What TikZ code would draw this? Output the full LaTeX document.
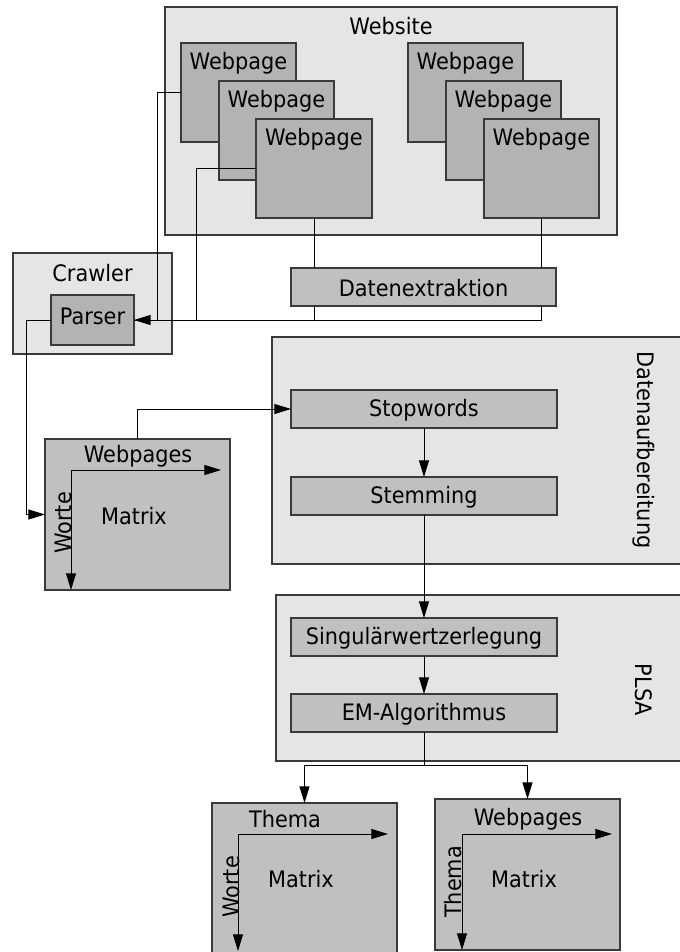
\documentclass[tikz,border=0pt]{standalone}
\usepackage{fontspec}
\setmainfont{DejaVu Sans}[FakeStretch=0.92]
\usetikzlibrary{arrows.meta,fit}

\definecolor{groupfill}{HTML}{E5E5E5}
\definecolor{pagefill}{HTML}{B3B3B3}
\definecolor{stepfill}{HTML}{C0C0C0}
\definecolor{edgegray}{HTML}{3A3A3A}

\begin{document}
\begin{tikzpicture}[
  x=0.75pt, y=-0.75pt,
  font=\fontsize{17}{20}\selectfont,
  frame/.style={draw=edgegray, line width=0.8pt, inner sep=0pt, outer sep=0pt},
  group/.style={frame, fill=groupfill},
  page/.style={frame, fill=pagefill},
  stepbox/.style={frame, fill=stepfill},
  matbox/.style={frame, fill=stepfill},
  txt/.style={inner sep=0pt, anchor=center},
  conn/.style={line width=0.75pt, black},
  arr/.style={conn, -{Triangle[length=12.5pt, width=7.5pt]}},
]
\useasboundingbox (0,0) rectangle (680,952);

% ---- website with its pages ----
\node[group, fit={(165,7) (617,235)}] (site) {};
\node[txt] (siteT) at (391,26) {Website};

\node[page, fit={(181,43) (296,142)}] (wp1) {};
\node[txt] at (238.5,63) {Webpage};
\node[page, fit={(219,81) (334,180)}] (wp2) {};
\node[txt] at (276.5,101) {Webpage};
\node[page, fit={(256,119) (372,218)}] (wp3) {};
\node[txt] at (314,139) {Webpage};

\node[page, fit={(408,43) (523,142)}] (wp4) {};
\node[txt] at (465.5,63) {Webpage};
\node[page, fit={(446,81) (561,180)}] (wp5) {};
\node[txt] at (503.5,101) {Webpage};
\node[page, fit={(484,119) (599,218)}] (wp6) {};
\node[txt] at (541.5,139) {Webpage};

% ---- crawler ----
\node[group, fit={(13,253) (172,354)}] (crawler) {};
\node[txt] at (92.5,273) {Crawler};
\node[page, fit={(51,295) (134,345)}] (parser) {};
\node[txt] at (92.5,316) {Parser};

% ---- extraction ----
\node[stepbox, fit={(291,268) (556,306)}] (dex) {};
\node[txt] at (423.5,288) {Datenextraktion};

% ---- preprocessing ----
\node[group, fit={(272,337) (690,564)}] (prep) {};
\node[txt, rotate=-90] at (644,450) {Datenaufbereitung};
\node[stepbox, fit={(291,390) (557,428)}] (stop) {};
\node[txt] at (424,410) {Stopwords};
\node[stepbox, fit={(291,477) (557,515)}] (stem) {};
\node[txt] at (424,497) {Stemming};

% ---- PLSA ----
\node[group, fit={(276,595) (690,761)}] (plsa) {};
\node[txt, rotate=-90] at (644,690) {PLSA};
\node[stepbox, fit={(291,618) (557,656)}] (svd) {};
\node[txt] at (424,638) {Singulärwertzerlegung};
\node[stepbox, fit={(291,694) (557,732)}] (em) {};
\node[txt] at (424,714) {EM-Algorithmus};

% ---- word/page matrix ----
\node[matbox, fit={(45,439) (230,590)}] (m1) {};
\coordinate (o1) at (71,470);
\draw[arr] (o1) -- (221,470);
\draw[arr] (o1) -- (71,590);
\node[txt] at (138,456) {Webpages};
\node[txt, rotate=90] at (63,523) {Worte};
\node[txt] at (134,516) {Matrix};

% ---- word/topic matrix ----
\node[matbox, fit={(212,803) (397,970)}] (m2) {};
\coordinate (o2) at (238,834);
\draw[arr] (o2) -- (388,834);
\draw[arr] (o2) -- (238,951);
\node[txt] at (285,819) {Thema};
\node[txt, rotate=90] at (231,887) {Worte};
\node[txt] at (301,879) {Matrix};

% ---- topic/page matrix ----
\node[matbox, fit={(435,799) (620,950)}] (m3) {};
\coordinate (o3) at (462,834);
\draw[arr] (o3) -- (612,834);
\draw[arr] (o3) -- (462,950);
\node[txt] at (528,819) {Webpages};
\node[txt, rotate=90] at (453,882) {Thema};
\node[txt] at (524,879) {Matrix};

% ---- connectors ----
\draw[conn] (wp1.west) -- ++(-24,0) |- (parser.east);
\draw[conn] (wp3.west) -- ++(-60,0) |- (parser.east);
\draw[conn] (wp3.south) -- (wp3.south |- dex.north);
\draw[conn] (wp6.south) -- (wp6.south |- dex.north);
\draw[conn] (wp6.south |- dex.south) |- (parser.east);
\draw[arr] (wp3.south |- dex.south) |- (parser.east);

\draw[arr] (parser.west) -- ++(-25,0) |- (m1.west);
\draw[arr] (m1.north) |- (stop.west);

\draw[arr] (stop.south) -- (stem.north);
\draw[arr] (stem.south) -- (svd.north);
\draw[arr] (svd.south) -- (em.south |- em.north);

\coordinate (split) at (424,765);
\draw[conn] (em.south) -- (split);
\draw[arr] (split) -| (m2.north);
\draw[arr] (split) -| (m3.north);
\end{tikzpicture}
\end{document}
